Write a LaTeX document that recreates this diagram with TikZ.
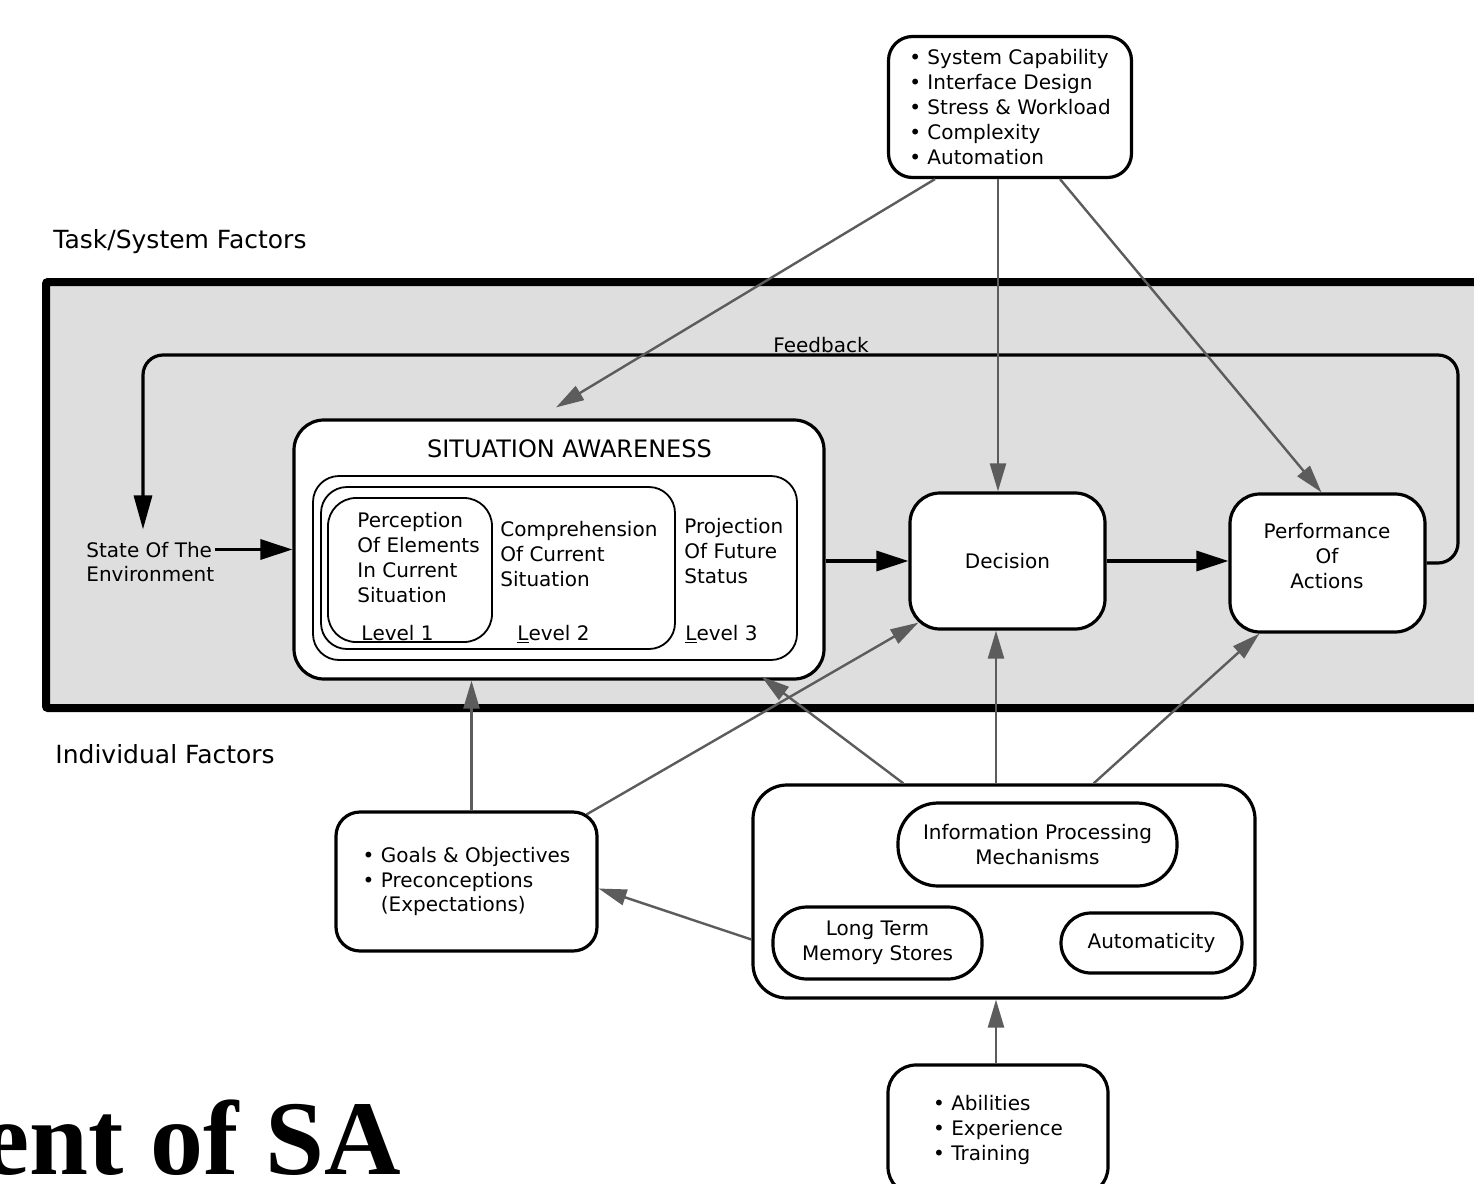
\documentclass[tikz,border=0pt]{standalone}
\usepackage{fontspec}
\setmainfont{DejaVu Sans}
\newfontfamily\titlefont{Liberation Serif}
\usetikzlibrary{arrows.meta,calc}
\definecolor{bandgray}{gray}{0.87}
\definecolor{arrowgray}{gray}{0.36}

\begin{document}
\begin{tikzpicture}[x=0.5pt,y=-0.5pt,
    every node/.style={inner sep=0pt, font=\fontsize{10pt}{12.4pt}\selectfont},
    box/.style={draw, line width=1.6pt, fill=white, rounded corners=14pt},
    lvlbox/.style={draw, line width=0.9pt, fill=white, rounded corners=13pt},
    blackarrow/.style={line width=1.6pt, -{Triangle[length=16pt,width=10pt]}},
    grayarrow/.style={draw=arrowgray, line width=1.2pt, -{Triangle[length=14pt,width=8pt]}},
    lbl/.style={font=\fontsize{12.5pt}{15pt}\selectfont}
]

        \useasboundingbox (0,0) rectangle (1474,1184);
        \clip (0,0) rectangle (1474,1184);
        \fill[white] (0,0) rectangle (1474,1184);

        %task/system band
        \draw[line width=4pt, fill=bandgray, rounded corners=1pt] (46,282) rectangle (1530,708);

        \node[lbl, anchor=base west] (task)  at (53,248) {Task/System Factors};
        \node[lbl, anchor=base west] (indiv) at (55,763) {Individual Factors};

        %task factors
        \node[box, rounded corners=12pt, minimum width=121.5pt, minimum height=70.5pt, align=left] (factors) at (1010,107)
            {\textbullet\ System Capability\\\textbullet\ Interface Design\\\textbullet\ Stress \& Workload\\\textbullet\ Complexity\\\textbullet\ Automation};

        %environment
        \node[anchor=west, align=left] (state) at (86,562) {State Of The\\Environment};

        %situation awareness
        \node[box, rounded corners=15pt, minimum width=265pt, minimum height=129.5pt] (sa) at (559,549.5) {};
        \node[font=\fontsize{12pt}{14pt}\selectfont, anchor=base] (satitle) at (569.5,457) {SITUATION AWARENESS};
        \node[lvlbox, minimum width=242pt, minimum height=92pt] (lvl3) at (555,568) {};
        \node[lvlbox, minimum width=177pt, minimum height=81pt] (lvl2) at (498,568) {};
        \node[lvlbox, rounded corners=14pt, minimum width=82pt, minimum height=72pt] (lvl1) at (410,570) {};

        \node[anchor=north west, align=left] (percep) at (357,512) {Perception\\Of Elements\\In Current\\Situation};
        \node[anchor=north west, align=left] (compr)  at (500,521) {Comprehension\\Of Current\\Situation};
        \node[anchor=north west, align=left] (proj)   at (684,518) {Projection\\Of Future\\Status};
        \node[anchor=base west] (lone)   at (361,640) {\underline{L}evel 1};
        \node[anchor=base west] (ltwo)   at (517,640) {\underline{L}evel 2};
        \node[anchor=base west] (lthree) at (685,640) {\underline{L}evel 3};

        %decision and action
        \node[box, rounded corners=15pt, minimum width=97.5pt, minimum height=68pt] (dec) at (1007.5,561) {Decision};
        \node[box, rounded corners=15pt, minimum width=97.5pt, minimum height=69pt] (perf) at (1327.5,563) {};
        \node[align=center] (perftxt) at (1327,556) {Performance\\Of\\Actions};

        \draw[blackarrow] (state.east |- sa.west) -- (sa.west);
        \draw[blackarrow] (dec.west -| sa.east) -- (dec.west);
        \draw[blackarrow] (dec.east) -- (dec.east -| perf.west);

        %feedback loop
        \coordinate (fbr) at (1458,355);
        \coordinate (fbl) at (143,355);
        \draw[line width=1.6pt, rounded corners=10pt, shorten >=6pt, -{Triangle[length=17pt,width=9pt]}]
            (perf.east) -- (perf.east -| fbr) -- (fbr) -- (fbl) -- (fbl |- state.north);
        \node[anchor=base] (fbk) at (821,352) {Feedback};

        %individual factors
        \node[box, rounded corners=12pt, minimum width=130.5pt, minimum height=69.5pt, align=left] (goals) at (466.5,881.5)
            {\textbullet\ Goals \& Objectives\\\textbullet\ Preconceptions\\\phantom{\textbullet\ }(Expectations)};

        \node[box, rounded corners=17pt, minimum width=251pt, minimum height=106.5pt] (big) at (1004,891.5) {};
        \node[box, rounded corners=20pt, minimum width=139.5pt, minimum height=41.5pt, align=center] (ipm) at (1037.5,844.5)
            {Information Processing\\Mechanisms};
        \node[box, rounded corners=17pt, minimum width=104.5pt, minimum height=36pt, align=center] (ltm) at (877.5,943)
            {Long Term\\Memory Stores};
        \node[box, rounded corners=15pt, minimum width=90.5pt, minimum height=30pt] (auto) at (1151.5,943) {Automaticity};

        \node[box, rounded corners=14pt, minimum width=110pt, minimum height=65pt, align=left] (abil) at (998,1130)
            {\textbullet\ Abilities\\\textbullet\ Experience\\\textbullet\ Training};

        %gray influences
        \coordinate (fmid) at ($(factors.south)+(-12,0)$);
        \draw[grayarrow] ($(factors.south)+(-75,0)$) -- ($(sa.north)+(-3,-11)$);
        \draw[grayarrow] (fmid) -- (fmid |- dec.north);
        \draw[grayarrow] ($(factors.south)+(50,0)$) -- ($(perf.north)+(-6,0)$);

        \coordinate (gup) at ($(goals.north)+(5,0)$);
        \draw[grayarrow] (gup) -- (gup |- sa.south);
        \draw[grayarrow] ($(goals.north east)+(-12,4)$) -- ($(dec.south west)+(10,-8)$);

        \coordinate (bup) at ($(big.north)+(-8,0)$);
        \draw[grayarrow] ($(big.north west)+(152,0)$) -- ($(sa.south east)+(-64,-4)$);
        \draw[grayarrow] (bup) -- (bup |- dec.south);
        \draw[grayarrow] ($(big.north east)+(-163,0)$) -- ($(perf.south west)+(31,0)$);
        \draw[grayarrow] ($(big.west)+(0,48)$) -- ($(goals.east)+(0,7)$);

        \coordinate (aup) at ($(abil.north)+(-2,0)$);
        \draw[grayarrow] (aup) -- (aup |- big.south);

        %slide title
        \node[font=\titlefont\bfseries\fontsize{53pt}{60pt}\selectfont, anchor=base east] (sattl) at (401,1174) {ent of SA};

\end{tikzpicture}
\end{document}
